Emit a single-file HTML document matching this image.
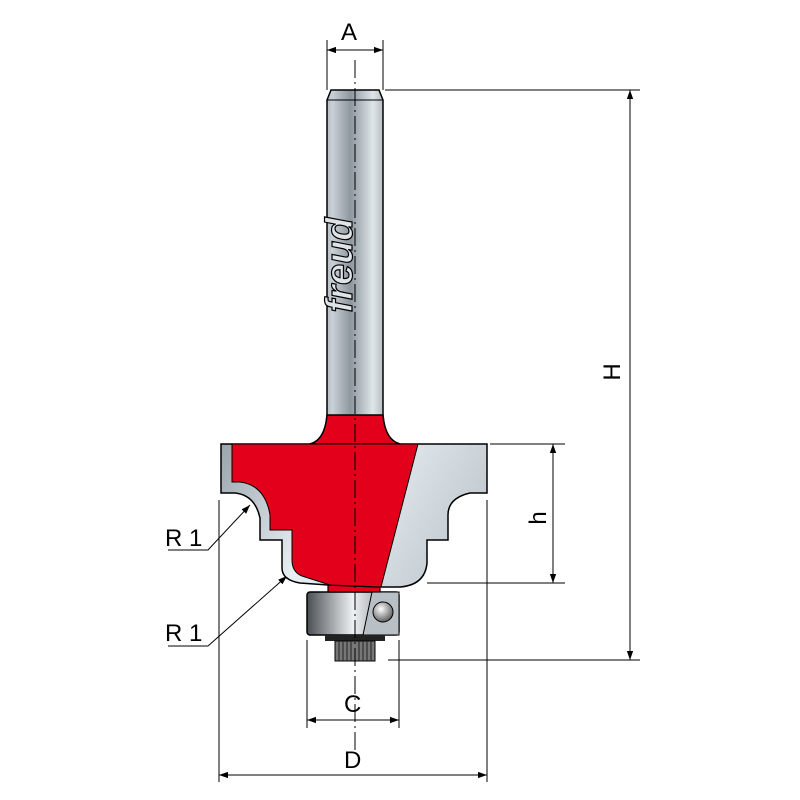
<!DOCTYPE html>
<html><head><meta charset="utf-8"><style>html,body{margin:0;padding:0;background:#fff}svg{display:block}</style></head>
<body>
<svg width="800" height="800" viewBox="0 0 800 800" xmlns="http://www.w3.org/2000/svg" font-family="Liberation Sans, sans-serif">
<defs>
<linearGradient id="sh" x1="0" x2="1" y1="0" y2="0">
<stop offset="0" stop-color="#7d8790"/><stop offset="0.25" stop-color="#c9d0d6"/><stop offset="0.45" stop-color="#8e979f"/><stop offset="0.7" stop-color="#dfe6ea"/><stop offset="1" stop-color="#6f7880"/></linearGradient>
<linearGradient id="gr" x1="0" x2="1" y1="0" y2="0.3">
<stop offset="0" stop-color="#9aa4ac"/><stop offset="0.5" stop-color="#e8f0f4"/><stop offset="1" stop-color="#c5cdd3"/></linearGradient>
<linearGradient id="br" x1="0" x2="1" y1="0" y2="0">
<stop offset="0" stop-color="#4a4f54"/><stop offset="0.5" stop-color="#eef1f3"/><stop offset="1" stop-color="#6a7076"/></linearGradient>
<radialGradient id="ball" cx="0.4" cy="0.35" r="0.7"><stop offset="0" stop-color="#fff"/><stop offset="1" stop-color="#555"/></radialGradient>
<marker id="ar" viewBox="0 0 10 10" refX="10" refY="5" markerWidth="9" markerHeight="9" orient="auto-start-reverse" markerUnits="userSpaceOnUse"><path d="M0,1.5 L10,5 L0,8.5z" fill="#000"/></marker>
</defs>
<g stroke="#000" stroke-width="1" fill="none">
<line x1="327" y1="40" x2="327" y2="90"/><line x1="383" y1="40" x2="383" y2="90"/>
<line x1="327" y1="50" x2="383" y2="50" marker-start="url(#ar)" marker-end="url(#ar)"/>
<line x1="385" y1="90" x2="640" y2="90"/><line x1="388" y1="660" x2="640" y2="660"/>
<line x1="630" y1="90" x2="630" y2="660" marker-start="url(#ar)" marker-end="url(#ar)"/>
<line x1="490" y1="444" x2="565" y2="444"/><line x1="427" y1="583" x2="565" y2="583"/>
<line x1="553" y1="444" x2="553" y2="583" marker-start="url(#ar)" marker-end="url(#ar)"/>
<line x1="307" y1="640" x2="307" y2="728"/><line x1="399" y1="640" x2="399" y2="728"/>
<line x1="307" y1="720" x2="399" y2="720" marker-start="url(#ar)" marker-end="url(#ar)"/>
<line x1="219" y1="500" x2="219" y2="782"/><line x1="487" y1="500" x2="487" y2="782"/>
<line x1="219" y1="775" x2="487" y2="775" marker-start="url(#ar)" marker-end="url(#ar)"/>
<polyline points="168,550 208,550 250,505" marker-end="url(#ar)"/>
<polyline points="168,646 208,646 287,576" marker-end="url(#ar)"/>
</g>
<path d="M331,90 L379,90 L383,100 L383,415 Q385,440 400,444 L310,444 Q325,440 327,415 L327,100 Z" fill="url(#sh)" stroke="#000" stroke-width="1.5"/>
<path d="M327,415 Q325,440 310,444 L400,444 Q385,440 383,415 Z" fill="#e2001a" stroke="#000" stroke-width="1.5"/>
<line x1="327" y1="100" x2="383" y2="100" stroke="#000"/>
<rect x="307" y="592" width="92" height="43" rx="3" fill="url(#br)" stroke="#000" stroke-width="1.5"/>
<path d="M372,592 L363,635 L399,635 L399,592Z" fill="#b8c0c6" stroke="#000"/>
<circle cx="383" cy="612" r="10" fill="url(#ball)" stroke="#000"/>
<rect x="325" y="635" width="60" height="6" fill="#222"/>
<rect x="335" y="641" width="40" height="20" fill="#777" stroke="#000"/>
<g stroke="#222" stroke-width="1"><line x1="339" y1="641" x2="339" y2="661"/><line x1="343" y1="641" x2="343" y2="661"/><line x1="347" y1="641" x2="347" y2="661"/><line x1="351" y1="641" x2="351" y2="661"/><line x1="359" y1="641" x2="359" y2="661"/><line x1="363" y1="641" x2="363" y2="661"/><line x1="367" y1="641" x2="367" y2="661"/><line x1="371" y1="641" x2="371" y2="661"/></g>
<rect x="328" y="575" width="52" height="17" fill="#e2001a" stroke="#000" stroke-width="1.2"/>
<path d="M221,444 L487,444 L487,493 L470,493 Q448,498 448,515 L448,540 L427,540 L427,563 Q425,585 400,587 L380,587 L328,585 L300,583 Q282,580 282,568 L282,540 L260,540 L260,518 Q255,495 235,493 L221,493 Z" fill="url(#gr)" stroke="#000" stroke-width="1.5"/>
<path d="M232,444 L418,444 L381,587 L330,585 L302,576 Q292,572 292,560 L292,530 L270,530 L270,515 Q265,485 240,482 L232,482 Z" fill="#e2001a" stroke="#000" stroke-width="1"/>
<g transform="translate(352,265) rotate(-90)"><text x="0" y="0" text-anchor="middle" font-size="38" font-weight="bold" font-style="italic" fill="#dde3e7" stroke="#000" stroke-width="1.2">freud</text></g>
<line x1="355" y1="60" x2="355" y2="752" stroke="#000" stroke-width="1" stroke-dasharray="18,4,2,4"/>
<g font-size="24" fill="#000">
<text x="341" y="40">A</text>
<text x="344" y="712">C</text>
<text x="344" y="768">D</text>
<text x="165" y="546">R 1</text>
<text x="165" y="641">R 1</text>
<text transform="translate(620,372) rotate(-90)" text-anchor="middle">H</text>
<text transform="translate(546,518) rotate(-90)" text-anchor="middle">h</text>
</g>
</svg>
</body></html>
